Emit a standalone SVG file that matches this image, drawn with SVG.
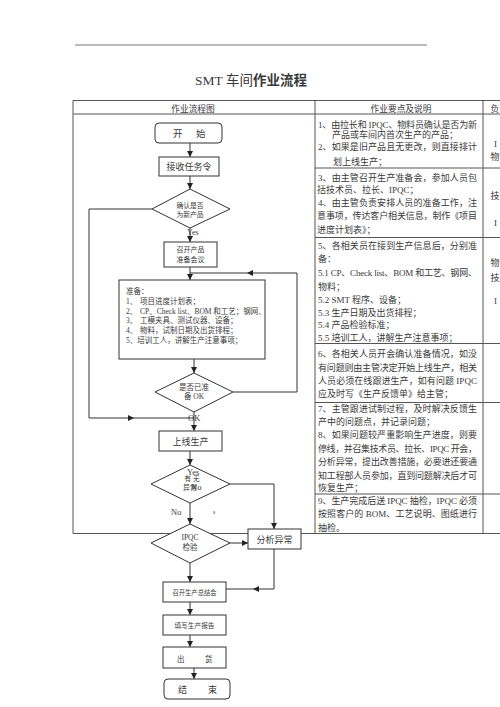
<svg xmlns="http://www.w3.org/2000/svg" width="500" height="707" viewBox="0 0 500 707">
<style>
.tbl{stroke:#555;stroke-width:1;fill:none}
.ln{stroke:#333;stroke-width:1;fill:none}
.bx{stroke:#333;stroke-width:1;fill:#fff}
text{font-family:"Liberation Serif","Noto Sans CJK SC",serif;fill:#3a3a3a}
.c2{font-size:9px}
.hd{font-size:8.7px}
.m{text-anchor:middle}
</style>
<defs>
<marker id="ah" markerUnits="userSpaceOnUse" markerWidth="7" markerHeight="6" refX="6" refY="3" orient="auto">
<path d="M0,0 L6,3 L0,6 z" fill="#222"/>
</marker>
</defs>
<rect width="500" height="707" fill="#fff"/>
<line x1="75" y1="45" x2="427" y2="45" stroke="#777" stroke-width="1.2"/>
<text x="195" y="85" font-size="13.5">SMT 车间<tspan font-weight="bold">作业流程</tspan></text>

<g id="table">
<path class="tbl" d="M73,100.5 H500 M73,114 H500 M73,533.5 H500 M73,100.5 V533.5 M315,100.5 V533.5 M483,100.5 V533.5 M315,168 H500 M315,237.5 H500 M315,343.5 H500 M315,402.5 H500 M315,494 H500"/>
<text class="hd m" x="193" y="111.5">作业流程图</text>
<text class="hd m" x="401" y="111.5">作业要点及说明</text>
<text class="hd" x="490.5" y="111.5">负</text>
<g class="c2">
<text class="c2" x="318" y="128" textLength="159" lengthAdjust="spacing">1、由拉长和 IPQC、物料员确认是否为新</text>
<text class="c2" x="332" y="137.5">产品或车间内首次生产的产品；</text>
<text class="c2" x="318" y="150" textLength="159" lengthAdjust="spacing">2、如果是旧产品且无更改，则直接排计</text>
<text class="c2" x="333" y="165">划上线生产；</text>
<text class="c2" x="318" y="180.5" textLength="159" lengthAdjust="spacing">3、由主管召开生产准备会，参加人员包</text>
<text class="c2" x="317" y="192.5">括技术员、拉长、IPQC；</text>
<text class="c2" x="318" y="205.5" textLength="159" lengthAdjust="spacing">4、由主管负责安排人员的准备工作，注</text>
<text class="c2" x="317" y="218.5" textLength="160" lengthAdjust="spacing">意事项，传达客户相关信息，制作《项目</text>
<text class="c2" x="317" y="232.5">进度计划表》；</text>
<text class="c2" x="318" y="248.5" textLength="159" lengthAdjust="spacing">5、各相关员在接到生产信息后，分别准</text>
<text class="c2" x="318" y="261.5">备：</text>
<text class="c2" x="318" y="275.5" textLength="159" lengthAdjust="spacing">5.1 CP、Check list、BOM 和工艺、钢网、</text>
<text class="c2" x="318" y="289.5">物料；</text>
<text class="c2" x="318" y="302.5">5.2 SMT 程序、设备；</text>
<text class="c2" x="318" y="315.5">5.3  生产日期及出货排程；</text>
<text class="c2" x="318" y="327.5">5.4  产品检验标准；</text>
<text class="c2" x="318" y="340.5">5.5 培训工人，讲解生产注意事项；</text>
<text class="c2" x="318" y="356.5" textLength="159" lengthAdjust="spacing">6、各相关人员开会确认准备情况，如没</text>
<text class="c2" x="318" y="370.5" textLength="159" lengthAdjust="spacing">有问题则由主管决定开始上线生产，相关</text>
<text class="c2" x="318" y="383.5" textLength="159" lengthAdjust="spacing">人员必须在线跟进生产，如有问题 IPQC</text>
<text class="c2" x="318" y="396.5">应及时写《生产反馈单》给主管；</text>
<text class="c2" x="318" y="411.5" textLength="159" lengthAdjust="spacing">7、主管跟进试制过程，及时解决反馈生</text>
<text class="c2" x="318" y="424.5">产中的问题点，并记录问题；</text>
<text class="c2" x="318" y="438" textLength="159" lengthAdjust="spacing">8、如果问题较严重影响生产进度，则要</text>
<text class="c2" x="318" y="451.5" textLength="159" lengthAdjust="spacing">停线，并召集技术员、拉长、IPQC 开会，</text>
<text class="c2" x="318" y="465" textLength="159" lengthAdjust="spacing">分析异常，提出改善措施，必要进还要通</text>
<text class="c2" x="318" y="478.5" textLength="159" lengthAdjust="spacing">知工程部人员参加，直到问题解决后才可</text>
<text class="c2" x="318" y="491">恢复生产；</text>
<text class="c2" x="318" y="504" textLength="159" lengthAdjust="spacing">9、生产完成后送 IPQC 抽检，IPQC 必须</text>
<text class="c2" x="318" y="517" textLength="159" lengthAdjust="spacing">按照客户的 BOM、工艺说明、图纸进行</text>
<text class="c2" x="318" y="530.5">抽检。</text>
</g>
<text class="c2" x="494" y="146.5">I</text>
<text class="c2" x="490.5" y="160">物</text>
<text class="c2" x="490.5" y="198.5">技</text>
<text class="c2" x="494" y="225.5">I</text>
<text class="c2" x="490.5" y="266">物</text>
<text class="c2" x="490.5" y="281">技</text>
<text class="c2" x="494" y="303.5">I</text>
</g>

<g id="connectors">
<path class="ln" marker-end="url(#ah)" d="M190,143 V157"/>
<path class="ln" marker-end="url(#ah)" d="M190,176 V189"/>
<path class="ln" marker-end="url(#ah)" d="M190,228 V242"/>
<path class="ln" marker-end="url(#ah)" d="M190,267 V280"/>
<path class="ln" marker-end="url(#ah)" d="M233,392 H297 V273 H247"/>
<path class="ln" d="M247,273 H190"/>
<path class="ln" marker-end="url(#ah)" d="M194,359 V373"/>
<path class="ln" marker-end="url(#ah)" d="M194,412 V431"/>
<path class="ln" marker-end="url(#ah)" d="M152,209 H89 V418 H134"/>
<path class="ln" d="M134,418 H194"/>
<path class="ln" marker-end="url(#ah)" d="M190,451 V465"/>
<path class="ln" marker-end="url(#ah)" d="M230,484 H274 V529"/>
<path class="ln" marker-end="url(#ah)" d="M190,503 V524"/>
<path class="ln" marker-end="url(#ah)" d="M230,543 H248"/>
<path class="ln" marker-end="url(#ah)" d="M274,549 V589 H253"/>
<path class="ln" d="M253,589 H226"/>
<path class="ln" marker-end="url(#ah)" d="M190,563 V582"/>
<path class="ln" marker-end="url(#ah)" d="M190,602 V615"/>
<path class="ln" marker-end="url(#ah)" d="M190,635 V647"/>
<path class="ln" marker-end="url(#ah)" d="M194,668 V679"/>
<text x="187" y="235" font-size="8">Yes</text>
<text x="188" y="420.5" font-size="8.5">OK</text>
<text x="171" y="515" font-size="8.5">No</text>
<text x="213" y="514" font-size="5.5">s</text>
</g>

<g id="start">
<rect class="bx" x="155" y="123" width="67" height="20" rx="4"/>
<text y="136.5" font-size="9.5"><tspan x="173">开</tspan><tspan x="196">始</tspan></text>
</g>
<g id="receive">
<rect class="bx" x="159" y="157" width="60" height="19"/>
<text class="m" x="189" y="170" font-size="9">接收任务令</text>
</g>
<g id="check-new">
<polygon class="bx" points="190,189 230,209 190,228 152,209"/>
<text class="m" x="190" y="208" font-size="6.8">确认是否</text>
<text class="m" x="190" y="216.5" font-size="6.8">为新产品</text>
</g>
<g id="meeting">
<rect class="bx" x="164" y="242" width="53" height="25"/>
<text class="m" x="190.5" y="252" font-size="7">召开产品</text>
<text class="m" x="190.5" y="262" font-size="7">准备会议</text>
</g>
<g id="prepare">
<rect class="bx" x="119" y="280" width="146" height="79"/>
<text x="126" y="293.5" font-size="7.5">准备：</text>
<text y="303.5" font-size="7.5"><tspan x="126">1、</tspan><tspan x="140">项目进度计划表；</tspan></text>
<text y="313.5" font-size="7.5"><tspan x="126">2、</tspan><tspan x="140">CP、Check list、BOM 和工艺；钢网、</tspan></text>
<text y="323" font-size="7.5"><tspan x="126">3、</tspan><tspan x="140">工模夹具、测试仪器、设备；</tspan></text>
<text y="332.5" font-size="7.5"><tspan x="126">4、</tspan><tspan x="140">物料，试制日期及出货排程；</tspan></text>
<text x="126" y="342.5" font-size="7.5">5、培训工人，讲解生产注意事项；</text>
</g>
<g id="ready-ok">
<polygon class="bx" points="194,373 233,392 194,412 155,392"/>
<text class="m" x="194" y="389.5" font-size="7.5">是否已准</text>
<text class="m" x="194" y="399" font-size="7.5">备 OK</text>
</g>
<g id="online">
<rect class="bx" x="159" y="431" width="63" height="20"/>
<text class="m" x="190.5" y="444.5" font-size="9">上线生产</text>
</g>
<g id="abnormal">
<polygon class="bx" points="190,465 230,484 190,503 151,484"/>
<text x="187" y="475" font-size="8.5">Yes</text>
<text class="m" x="192" y="481" font-size="7">有 无</text>
<text class="m" x="190" y="489.5" font-size="7">异常</text>
<text x="191" y="489.5" font-size="8.5">No</text>
</g>
<g id="ipqc">
<polygon class="bx" points="190,524 230,543 190,563 151,543"/>
<text class="m" x="190" y="539.5" font-size="7.5">IPQC</text>
<text class="m" x="190" y="550" font-size="7.5">检验</text>
</g>
<g id="analyze">
<rect class="bx" x="248" y="529" width="53" height="20"/>
<text class="m" x="274.5" y="542.5" font-size="9">分析异常</text>
</g>
<g id="summary">
<rect class="bx" x="163" y="582" width="63" height="20"/>
<text class="m" x="194.5" y="594.5" font-size="6.3">召开生产总结会</text>
</g>
<g id="report">
<rect class="bx" x="163" y="615" width="63" height="20"/>
<text class="m" x="194.5" y="627.5" font-size="6.7">填写生产报告</text>
</g>
<g id="ship">
<rect class="bx" x="163" y="647" width="63" height="21"/>
<text y="661.5" font-size="7.5"><tspan x="177">出</tspan><tspan x="205">货</tspan></text>
</g>
<g id="end">
<rect class="bx" x="164" y="679" width="66" height="20" rx="4"/>
<text y="692.5" font-size="9"><tspan x="178">结</tspan><tspan x="208">束</tspan></text>
</g>
</svg>
